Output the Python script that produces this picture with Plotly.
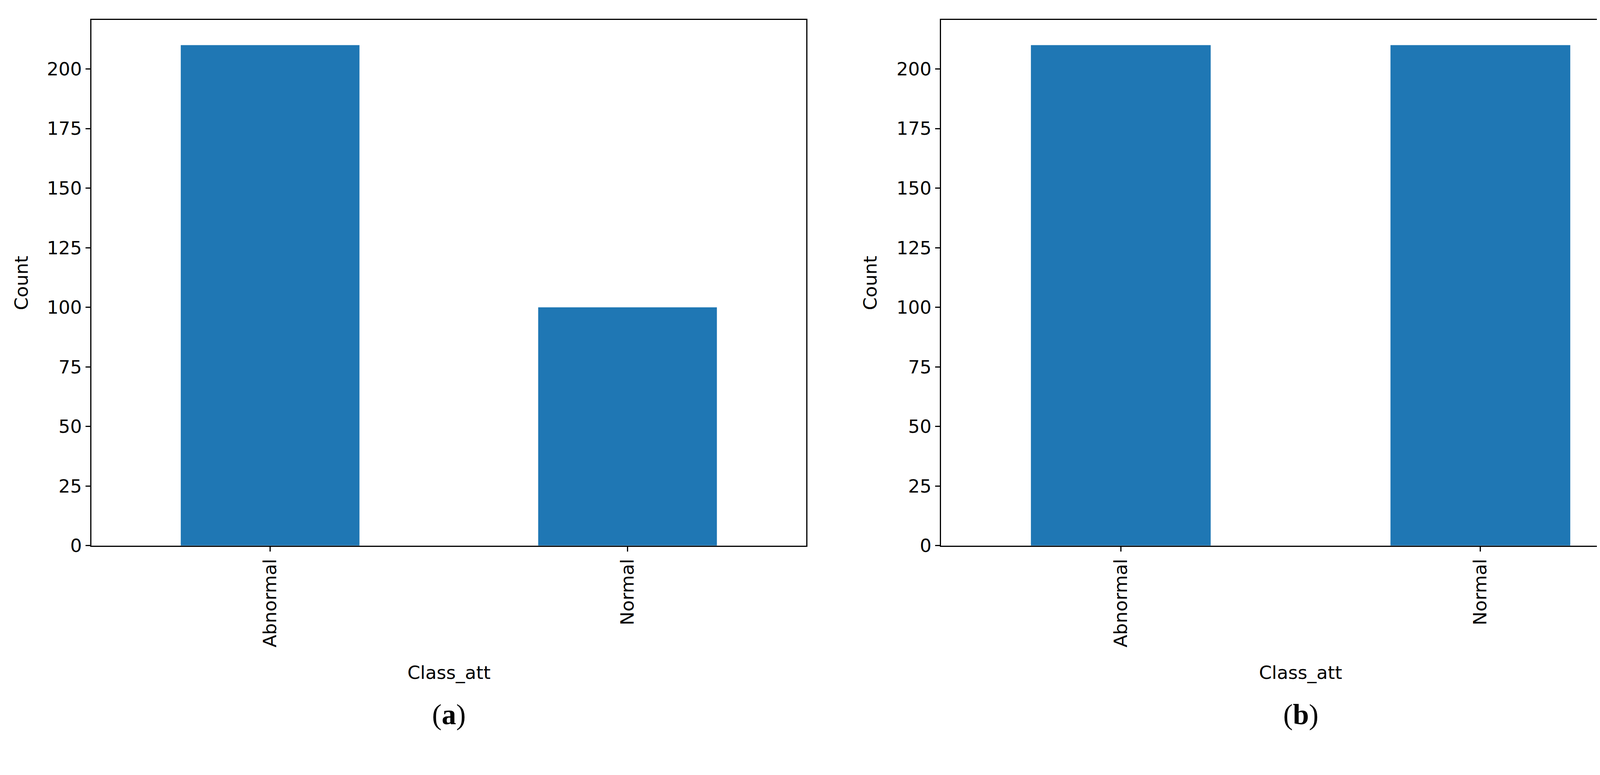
import plotly.graph_objects as go

categories = ["Abnormal", "Normal"]
counts_a = [210, 100]
counts_b = [210, 210]
panel_labels = ["(<b>a</b>)", "(<b>b</b>)"]

W, H = 4269, 1984
color = "#1f77b4"
font = dict(family="DejaVu Sans", size=47, color="black")

fig = go.Figure()
fig.add_trace(go.Bar(x=[0, 1], y=counts_a, width=0.5, marker=dict(color=color, line=dict(width=0)), xaxis="x", yaxis="y"))
fig.add_trace(go.Bar(x=[0, 1], y=counts_b, width=0.5, marker=dict(color=color, line=dict(width=0)), xaxis="x2", yaxis="y2"))

ax = dict(showline=True, mirror=True, linecolor="black", linewidth=3, ticks="outside",
          ticklen=12, tickwidth=3, tickcolor="black", showgrid=False, zeroline=False,
          tickfont=font)
xdom = [[226 / W, 2056 / W], [2401 / W, 4242 / W]]
ydom = [1 - 1408 / H, 1 - 44 / H]
fig.update_layout(
    width=W, height=H, margin=dict(l=0, r=0, t=0, b=0),
    paper_bgcolor="white", plot_bgcolor="white", showlegend=False,
    xaxis=dict(ax, domain=xdom[0], range=[-0.5, 1.5], tickvals=[0, 1], ticktext=categories, tickangle=-90, anchor="y"),
    yaxis=dict(ax, domain=ydom, range=[0, 220.5], tickvals=list(range(0, 201, 25)), anchor="x"),
    xaxis2=dict(ax, domain=xdom[1], range=[-0.5, 1.5], tickvals=[0, 1], ticktext=categories, tickangle=-90, anchor="y2"),
    yaxis2=dict(ax, domain=ydom, range=[0, 220.5], tickvals=list(range(0, 201, 25)), anchor="x2"),
)
for i in range(2):
    cx = (xdom[i][0] + xdom[i][1]) / 2
    fig.add_annotation(text="Class_att", x=cx, y=1 - 1737 / H, xref="paper", yref="paper",
                       showarrow=False, font=font, xanchor="center", yanchor="middle")
    fig.add_annotation(text="Count", x=[46 / W, 2219 / W][i], y=(ydom[0] + ydom[1]) / 2,
                       xref="paper", yref="paper", showarrow=False, font=font, textangle=-90,
                       xanchor="center", yanchor="middle")
    fig.add_annotation(text=panel_labels[i], x=[(83 + 755) / 2 / 1568, (882 + 1558) / 2 / 1568][i],
                       y=1 - 1846 / H, xref="paper", yref="paper", showarrow=False,
                       font=dict(family="Liberation Serif", size=74, color="black"),
                       xanchor="center", yanchor="middle")
fig.write_html("out.html")
